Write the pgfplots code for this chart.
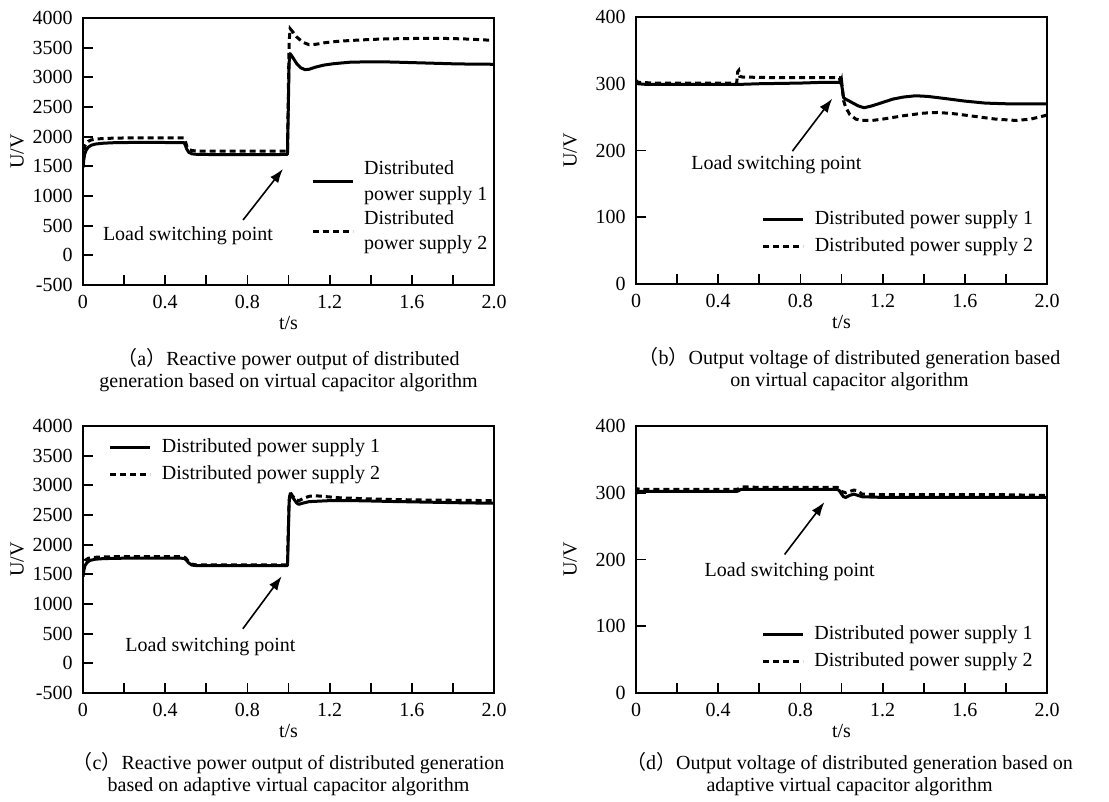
\documentclass[border=0pt]{standalone}
\usepackage{fontspec}
\setmainfont{Liberation Serif}
\newfontfamily\cjk{Noto Sans CJK SC}
\usepackage{pgfplots}
\pgfplotsset{compat=1.18}
\usetikzlibrary{arrows.meta}
\newcommand{\tf}{\fontsize{10}{12.8}\selectfont}
\tikzset{arr/.style={line width=0.8pt, -{Latex[length=7pt,width=5pt]}}}
\pgfplotsset{
  myax/.style={
    scale only axis, width=205.5pt, height=133.5pt,
    anchor=south west,
    xmin=0, xmax=2,
    xtick={0,0.2,0.4,0.6,0.8,1,1.2,1.4,1.6,1.8,2},
    xticklabels={0,,0.4,,0.8,,1.2,,1.6,,2.0},
    tick pos=left, tick align=inside, major tick length=5pt,
    every tick/.style={black, line width=0.9pt},
    axis line style={line width=0.9pt},
    xlabel={t/s}, ylabel={U/V},
    xlabel style={at={(axis description cs:0.5,0)}, anchor=center, yshift=-19pt},
    ylabel style={at={(axis description cs:-0.16,0.5)}, anchor=center},
    tick label style={font=\tf},
    label style={font=\tf},
    xticklabel style={yshift=-1.5pt},
    yticklabel style={xshift=-1.7pt},
    legend style={draw=none, fill=none, font=\tf, inner sep=0pt, outer sep=0pt,
      nodes={inner sep=0pt, align=left}, column sep=5pt, row sep=5pt, cells={anchor=west}},
    legend image code/.code={\draw[#1] (0pt,0pt) -- (20pt,0pt);},
  },
  yA/.style={ymin=-500, ymax=4000, ytick={-500,0,500,1000,1500,2000,2500,3000,3500,4000},
    yticklabels={-500,0,500,1000,1500,2000,2500,3000,3500,4000}},
  yB/.style={ymin=0, ymax=400, ytick={0,100,200,300,400}, yticklabels={0,100,200,300,400}},
  s1/.style={black, line width=1.5pt, line join=round},
  s2/.style={black, line width=1.5pt, dash pattern=on 3pt off 2pt},
}
\begin{document}
\begin{tikzpicture}
\useasboundingbox (0,0) rectangle (554.5pt,401pt);
% (a)
\begin{axis}[myax, yA, name=a, at={(41.5pt,258.5pt)},
  legend style={at={(axis description cs:0.555,0.466)}, anchor=north west, row sep=3.6pt}]
\addplot[s1] coordinates {(0,1480)(0.004,1620)(0.008,1700)(0.015,1770)(0.025,1820)(0.04,1855)(0.06,1875)(0.1,1890)(0.15,1898)(0.25,1903)(0.35,1903)(0.45,1900)(0.49,1900)(0.495,1880)(0.505,1790)(0.515,1735)(0.53,1710)(0.56,1700)(0.7,1698)(0.9,1698)(0.995,1700)(1.003,3250)(1.008,3400)(1.02,3340)(1.04,3230)(1.06,3160)(1.08,3130)(1.1,3135)(1.13,3170)(1.17,3205)(1.22,3230)(1.3,3255)(1.4,3262)(1.5,3258)(1.6,3248)(1.7,3238)(1.8,3228)(1.9,3222)(2.0,3220)};
\addplot[s2] coordinates {(0.002,1600)(0.006,1780)(0.01,1850)(0.015,1880)(0.025,1920)(0.04,1945)(0.07,1962)(0.12,1972)(0.2,1978)(0.3,1980)(0.4,1980)(0.49,1978)(0.495,1960)(0.505,1840)(0.515,1785)(0.53,1765)(0.56,1757)(0.7,1755)(0.9,1755)(0.995,1757)(1.003,3600)(1.008,3820)(1.02,3770)(1.04,3680)(1.07,3590)(1.1,3550)(1.13,3555)(1.18,3585)(1.25,3610)(1.35,3630)(1.45,3645)(1.55,3652)(1.65,3656)(1.75,3656)(1.85,3648)(1.95,3632)(2.0,3620)};
\legend{Distributed\\power supply 1, Distributed\\power supply 2}
\node[font=\tf] at (axis cs:0.511,326) {Load switching point};
\draw[arr] (axis cs:0.779,596) -- (axis cs:0.973,1456);
\end{axis}
% (b)
\begin{axis}[myax, yB, name=b, at={(318pt,259pt)},
  legend style={at={(axis description cs:0.306,0.274)}, anchor=north west}]
\addplot[s1] coordinates {(0,302)(0.01,300)(0.05,299)(0.2,299)(0.4,299)(0.5,299)(0.6,300)(0.8,301)(0.9,302)(0.99,302)(1.0,300)(1.005,290)(1.01,279)(1.02,277)(1.05,272)(1.08,267)(1.11,264)(1.15,267)(1.2,272)(1.25,277)(1.3,280)(1.36,282)(1.42,281)(1.5,278)(1.6,274)(1.7,271)(1.8,270)(1.9,270)(2.0,270)};
\addplot[s2] coordinates {(0,305)(0.01,302)(0.1,301)(0.3,301)(0.49,301)(0.495,318)(0.5,320)(0.505,311)(0.52,310)(0.7,309)(0.9,309)(0.99,309)(0.995,300)(1.0,305)(1.005,290)(1.01,275)(1.02,265)(1.04,254)(1.07,247)(1.1,245)(1.15,245)(1.2,247)(1.3,252)(1.4,256)(1.47,257)(1.55,255)(1.65,251)(1.75,247)(1.85,245)(1.92,247)(2.0,253)};
\legend{Distributed power supply 1, Distributed power supply 2}
\node[font=\tf] at (axis cs:0.683,178) {Load switching point};
\draw[arr] (axis cs:0.761,199) -- (axis cs:0.955,277.7);
\end{axis}
% (c)
\begin{axis}[myax, yA, name=c, at={(41.5pt,54.5pt)},
  legend style={at={(axis description cs:0.063,0.951)}, anchor=north west}]
\addplot[s1] coordinates {(0,1460)(0.005,1580)(0.01,1650)(0.02,1700)(0.035,1735)(0.06,1755)(0.1,1765)(0.2,1772)(0.35,1772)(0.47,1772)(0.49,1770)(0.5,1750)(0.515,1690)(0.53,1655)(0.55,1648)(0.7,1645)(0.9,1645)(0.995,1648)(1.003,2700)(1.008,2860)(1.02,2800)(1.04,2700)(1.05,2680)(1.07,2700)(1.1,2725)(1.2,2742)(1.35,2740)(1.5,2728)(1.7,2715)(1.85,2705)(2.0,2698)};
\addplot[s2] coordinates {(0.002,1560)(0.006,1680)(0.012,1740)(0.025,1770)(0.05,1785)(0.1,1795)(0.25,1800)(0.47,1800)(0.49,1795)(0.5,1775)(0.515,1710)(0.53,1670)(0.55,1660)(0.7,1658)(0.9,1658)(0.995,1660)(1.003,2750)(1.008,2885)(1.02,2820)(1.035,2760)(1.05,2740)(1.07,2775)(1.1,2815)(1.13,2825)(1.18,2810)(1.25,2790)(1.4,2770)(1.6,2755)(1.8,2748)(2.0,2742)};
\legend{Distributed power supply 1, Distributed power supply 2}
\node[font=\tf] at (axis cs:0.62,283) {Load switching point};
\draw[arr] (axis cs:0.778,583) -- (axis cs:0.967,1468);
\end{axis}
% (d)
\begin{axis}[myax, yB, name=d, at={(318pt,54.5pt)},
  legend style={at={(axis description cs:0.305,0.252)}, anchor=north west}]
\addplot[s1] coordinates {(0,298)(0.005,303)(0.02,302)(0.2,302)(0.49,302)(0.5,303)(0.51,305)(0.6,305)(0.8,305)(0.98,305)(0.99,303)(1.0,298)(1.01,294)(1.02,293)(1.04,296)(1.06,298)(1.08,296)(1.1,294)(1.2,293)(1.5,293)(1.8,293)(2.0,293)};
\addplot[s2] coordinates {(0,301)(0.005,306)(0.02,305)(0.2,305)(0.49,305)(0.5,306)(0.51,309)(0.6,308)(0.8,308)(0.98,308)(0.99,306)(1.0,302)(1.02,300)(1.04,302)(1.06,304)(1.08,303)(1.1,298)(1.2,297)(1.5,297)(1.8,297)(2.0,296)};
\legend{Distributed power supply 1, Distributed power supply 2}
\node[font=\tf] at (axis cs:0.748,182) {Load switching point};
\draw[arr] (axis cs:0.723,207.5) -- (axis cs:0.917,286);
\end{axis}
% captions
\node[font=\fontsize{10}{10.8}\selectfont, align=center] at ([yshift=-42.5pt]a.south)
  {{\cjk （}a{\cjk ）}Reactive power output of distributed\\generation based on virtual capacitor algorithm};
\node[font=\fontsize{10}{10.8}\selectfont, align=center] at ([xshift=4pt,yshift=-42.5pt]b.south)
  {{\cjk （}b{\cjk ）}Output voltage of distributed generation based\\on virtual capacitor algorithm};
\node[font=\fontsize{10}{10.8}\selectfont, align=center] at ([yshift=-40.5pt]c.south)
  {{\cjk （}c{\cjk ）}Reactive power output of distributed generation\\based on adaptive virtual capacitor algorithm};
\node[font=\fontsize{10}{10.8}\selectfont, align=center] at ([xshift=4pt,yshift=-40.5pt]d.south)
  {{\cjk （}d{\cjk ）}Output voltage of distributed generation based on\\adaptive virtual capacitor algorithm};
\end{tikzpicture}
\end{document}
